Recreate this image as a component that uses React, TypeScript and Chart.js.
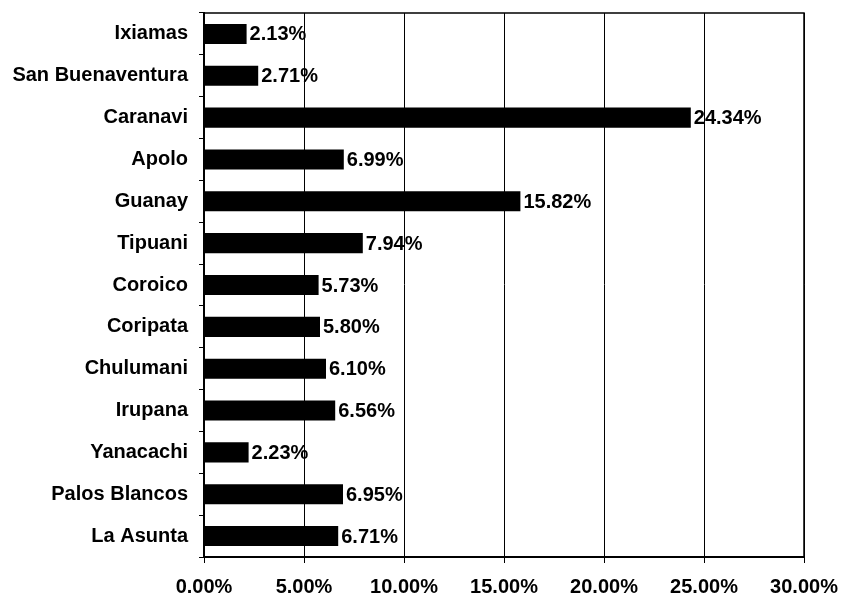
import React, { useEffect, useRef } from "react";
import { Chart, registerables } from "chart.js";

Chart.register(...registerables);

const categories = [
  "Ixiamas",
  "San Buenaventura",
  "Caranavi",
  "Apolo",
  "Guanay",
  "Tipuani",
  "Coroico",
  "Coripata",
  "Chulumani",
  "Irupana",
  "Yanacachi",
  "Palos Blancos",
  "La Asunta",
];
const values = [2.13, 2.71, 24.34, 6.99, 15.82, 7.94, 5.73, 5.8, 6.1, 6.56, 2.23, 6.95, 6.71];
const xMin = 0;
const xMax = 30;
const xStep = 5;

const FONT = "'Liberation Sans', Arial, sans-serif";

const valueLabels = {
  id: "valueLabels",
  afterDatasetsDraw(chart: any) {
    const ctx = chart.ctx;
    const meta = chart.getDatasetMeta(0);
    ctx.save();
    ctx.font = `bold 20px ${FONT}`;
    ctx.fillStyle = "#000";
    ctx.textAlign = "left";
    ctx.textBaseline = "middle";
    meta.data.forEach((bar: any, i: number) => {
      ctx.fillText(values[i].toFixed(2) + "%", bar.x + 3, bar.y + 1);
    });
    ctx.restore();
  },
};

const frame = {
  id: "frame",
  afterDatasetsDraw(chart: any) {
    const { ctx, chartArea: a } = chart;
    ctx.save();
    ctx.strokeStyle = "#000";
    ctx.lineWidth = 1.5;
    ctx.beginPath();
    ctx.moveTo(a.left, a.top);
    ctx.lineTo(a.right, a.top);
    ctx.lineTo(a.right, a.bottom);
    ctx.stroke();
    ctx.restore();
  },
};

export default function App() {
  const ref = useRef<HTMLCanvasElement>(null);
  useEffect(() => {
    const chart = new Chart(ref.current!, {
      type: "bar",
      data: {
        labels: categories,
        datasets: [
          {
            data: values,
            backgroundColor: "#000",
            borderWidth: 0,
            barPercentage: 0.48,
            categoryPercentage: 1,
          },
        ],
      },
      plugins: [valueLabels, frame],
      options: {
        indexAxis: "y",
        animation: false,
        responsive: false,
        maintainAspectRatio: false,
        layout: { padding: { top: 13, right: 38, left: 0, bottom: 0 } },
        plugins: { legend: { display: false }, tooltip: { enabled: false } },
        scales: {
          x: {
            min: xMin,
            max: xMax,
            ticks: {
              stepSize: xStep,
              color: "#000",
              font: { family: FONT, size: 20, weight: "bold" },
              padding: 12,
              maxRotation: 0,
              callback: (v: any) => Number(v).toFixed(2) + "%",
            },
            grid: { color: "#000", lineWidth: 1, drawTicks: true, tickLength: 6 },
            border: { color: "#000", width: 2 },
            afterFit: (s: any) => {
              s.height = 40;
              s.paddingLeft = 0;
              s.paddingRight = 0;
            },
          },
          y: {
            ticks: {
              color: "#000",
              font: { family: FONT, size: 20, weight: "bold" },
              padding: 11,
            },
            grid: { color: "#000", drawOnChartArea: false, drawTicks: true, tickLength: 5, offset: true },
            border: { color: "#000", width: 2 },
            afterFit: (s: any) => {
              s.width = 204;
              s.paddingTop = 0;
              s.paddingBottom = 0;
            },
          },
        },
      },
    });
    return () => chart.destroy();
  }, []);
  return (
    <div style={{ position: "fixed", left: 0, top: 0, width: 842, height: 597, background: "#fff" }}>
      <canvas ref={ref} width={842} height={597} style={{ width: 842, height: 597 }} />
    </div>
  );
}
